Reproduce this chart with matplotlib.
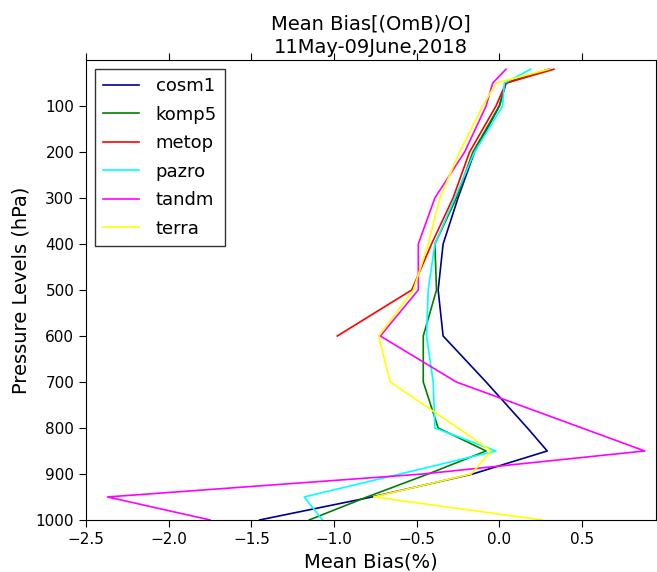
import matplotlib
matplotlib.use("Agg")
import matplotlib.pyplot as plt

levels = [20, 50, 100, 200, 300, 400, 500, 600, 700, 800, 850, 900, 950, 1000]

cosm1 = [0.30, 0.04, 0.00, -0.15, -0.25, -0.34, -0.37, -0.34, -0.08, 0.17, 0.29, -0.16, -0.77, -1.45]
komp5 = [0.30, 0.04, 0.00, -0.16, -0.26, -0.39, -0.38, -0.46, -0.46, -0.37, -0.08, -0.43, -0.80, -1.15]
metop = [0.33, 0.04, -0.02, -0.18, -0.28, -0.41, -0.53, -0.98]
pazro = [0.19, 0.03, 0.02, -0.15, -0.27, -0.39, -0.43, -0.44, -0.40, -0.39, -0.02, -0.60, -1.18, -1.07]
tandm = [0.04, -0.04, -0.08, -0.21, -0.39, -0.49, -0.49, -0.72, -0.26, 0.50, 0.88, -0.46, -2.37, -1.75]
terra = [0.30, -0.02, -0.10, -0.24, -0.36, -0.43, -0.52, -0.73, -0.66, -0.25, -0.05, -0.17, -0.76, 0.26]

series = [
    ("cosm1", cosm1, "darkblue"),
    ("komp5", komp5, "green"),
    ("metop", metop, "red"),
    ("pazro", pazro, "cyan"),
    ("tandm", tandm, "magenta"),
    ("terra", terra, "yellow"),
]

fig = plt.figure(figsize=(6.57, 5.72), dpi=100)
ax = fig.add_axes([0.131, 0.091, 0.868, 0.804])

for name, vals, col in series:
    ax.plot(vals, levels[:len(vals)], color=col, linewidth=1.2, label=name)

ax.set_xlim(-2.5, 0.95)
ax.set_ylim(1000, 0)
ax.set_yticks([100, 200, 300, 400, 500, 600, 700, 800, 900, 1000])
ax.set_xticks([-2.5, -2.0, -1.5, -1.0, -0.5, 0.0, 0.5])
ax.set_xticklabels(["\u22122.5", "\u22122.0", "\u22121.5", "\u22121.0", "\u22120.5", "0.0", "0.5"])
ax.tick_params(direction="out", top=True, right=True, labelsize=11, length=5)

ax.set_xlabel("Mean Bias(%)", fontsize=14)
ax.set_ylabel("Pressure Levels (hPa)", fontsize=14)
ax.set_title("Mean Bias[(OmB)/O]\n11May-09June,2018", fontsize=14, linespacing=1.3, pad=5)

leg = ax.legend(loc="upper left", fontsize=13, fancybox=False, edgecolor="black",
                handlelength=2.0, handletextpad=0.9, borderpad=0.45, labelspacing=0.58)
leg.get_frame().set_linewidth(1.0)

fig.savefig("out.png", dpi=100)
